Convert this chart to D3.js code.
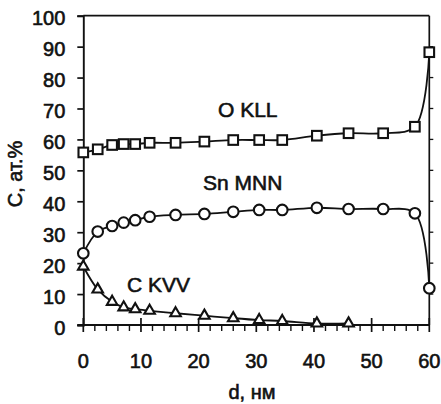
<!DOCTYPE html>
<html><head><meta charset="utf-8">
<script src="https://cdn.jsdelivr.net/npm/d3@7"></script>
<style>
html,body{margin:0;padding:0;background:#fff;}
svg{display:block;font-family:"Liberation Sans",Arial,sans-serif;}
svg text{stroke:#111;stroke-width:0.6px;}
</style></head><body>
<svg id="c" width="441" height="404"></svg>
<script>
// Data
const depth = [0, 2.5, 5, 7, 9, 11.5, 16, 21, 26, 30.5, 34.5, 40.5, 46, 52, 57.5, 60];
const oKLL  = [55.8, 56.8, 58.2, 58.5, 58.5, 58.9, 58.9, 59.3, 59.8, 59.8, 59.8, 61.2, 62.0, 62.0, 64.1, 88.2];
const snMNN = [23.2, 30.2, 32.0, 33.1, 33.9, 35.0, 35.6, 35.9, 36.6, 37.2, 37.2, 37.9, 37.5, 37.5, 36.1, 11.9];
const cDepth = [0, 2.5, 5, 7, 9, 11.5, 16, 21, 26, 30.5, 34.5, 40.5, 46];
const cKVV  = [18.9, 11.5, 7.5, 5.7, 5.1, 4.6, 3.8, 3.0, 2.2, 1.6, 1.3, 0.5, 0.5];
const xTicks = [0, 10, 20, 30, 40, 50, 60];
const yTicks = [0, 10, 20, 30, 40, 50, 60, 70, 80, 90, 100];
const seriesLabels = ["O KLL", "Sn MNN", "C KVV"];
const xTitle = "d, нм";
const yTitle = "C, ат.%";

const svg = d3.select("#c");
const x = d3.scaleLinear().domain([0, 60]).range([83.3, 429.3]);
const y = d3.scaleLinear().domain([0, 100]).range([325, 15.7]);
const X0 = x(0), X1 = x(60), Y0 = y(0), Y1 = y(100);
const ink = "#111";

// frame
svg.append("line").attr("x1", X0).attr("x2", X1).attr("y1", Y1).attr("y2", Y1).attr("stroke", ink).attr("stroke-width", 1.7);
svg.append("line").attr("x1", X1).attr("x2", X1).attr("y1", Y1).attr("y2", Y0).attr("stroke", ink).attr("stroke-width", 1.7);

// left axis
const ya = svg.append("g").attr("transform", `translate(${X0},0)`)
  .call(d3.axisLeft(y).tickValues(yTicks).tickSize(6).tickPadding(12).tickFormat(d3.format("d")));
ya.select(".domain").attr("stroke", ink).attr("stroke-width", 1.9);
ya.selectAll(".tick line").attr("stroke", ink).attr("stroke-width", 1.7);
ya.selectAll(".tick text").attr("font-size", 20).attr("fill", ink).attr("dy", "0.45em")
  .attr("font-family", "'Liberation Sans',Arial,sans-serif");

// right axis ticks
svg.append("g").selectAll("line").data(yTicks.slice(1, -1)).join("line")
  .attr("x1", X1).attr("x2", X1 + 4).attr("y1", d => y(d)).attr("y2", d => y(d))
  .attr("stroke", ink).attr("stroke-width", 1.3);

// bottom axis
const minor = d3.range(0, 61, 2).filter(v => v % 10 !== 0);
svg.append("line").attr("x1", X0 - 6).attr("x2", X1).attr("y1", Y0).attr("y2", Y0).attr("stroke", ink).attr("stroke-width", 1.9);
svg.append("g").selectAll("line").data(minor).join("line")
  .attr("x1", d => x(d)).attr("x2", d => x(d)).attr("y1", Y0).attr("y2", Y0 + 6)
  .attr("stroke", ink).attr("stroke-width", 1.4);
svg.append("g").selectAll("line").data(xTicks).join("line")
  .attr("x1", d => x(d)).attr("x2", d => x(d)).attr("y1", Y0 - 7).attr("y2", Y0 + 7)
  .attr("stroke", ink).attr("stroke-width", 1.7);
svg.append("g").selectAll("text").data(xTicks).join("text")
  .attr("x", d => x(d)).attr("y", 368).attr("text-anchor", "middle")
  .attr("font-size", 20).attr("fill", ink).text(d => d);

// titles
svg.append("text").attr("x", 252).attr("y", 399).attr("text-anchor", "middle")
  .attr("font-size", 20).attr("fill", ink).text(xTitle);
svg.append("text").attr("transform", "translate(22,174) rotate(-90)").attr("text-anchor", "middle")
  .attr("font-size", 20).attr("fill", ink).text(yTitle);

// lines
const line = d3.line().x(d => x(d[0])).y(d => y(d[1])).curve(d3.curveCatmullRom.alpha(0.5));
const oPts = depth.map((d, i) => [d, oKLL[i]]);
const sPts = depth.map((d, i) => [d, snMNN[i]]);
const cPts = cDepth.map((d, i) => [d, cKVV[i]]);
[oPts, sPts, cPts].forEach(p => svg.append("path").attr("d", line(p)).attr("fill", "none").attr("stroke", ink).attr("stroke-width", 1.8));

// markers
const mk = svg.append("g").attr("fill", "#fff").attr("stroke", ink).attr("stroke-width", 2.1);
mk.selectAll("rect").data(oPts).join("rect")
  .attr("x", d => x(d[0]) - 4.8).attr("y", d => y(d[1]) - 4.8).attr("width", 9.6).attr("height", 9.6);
mk.selectAll("circle").data(sPts).join("circle")
  .attr("cx", d => x(d[0])).attr("cy", d => y(d[1])).attr("r", 5.3);
mk.selectAll("path").data(cPts).join("path")
  .attr("d", d3.symbol(d3.symbolTriangle, 48))
  .attr("transform", d => `translate(${x(d[0])},${y(d[1])})`);

// series labels
const lab = [[218, 117], [203, 190], [127, 292]];
svg.append("g").selectAll("text").data(seriesLabels).join("text")
  .attr("x", (d, i) => lab[i][0]).attr("y", (d, i) => lab[i][1])
  .attr("font-size", 21).attr("fill", ink).text(d => d);
</script>
</body></html>
